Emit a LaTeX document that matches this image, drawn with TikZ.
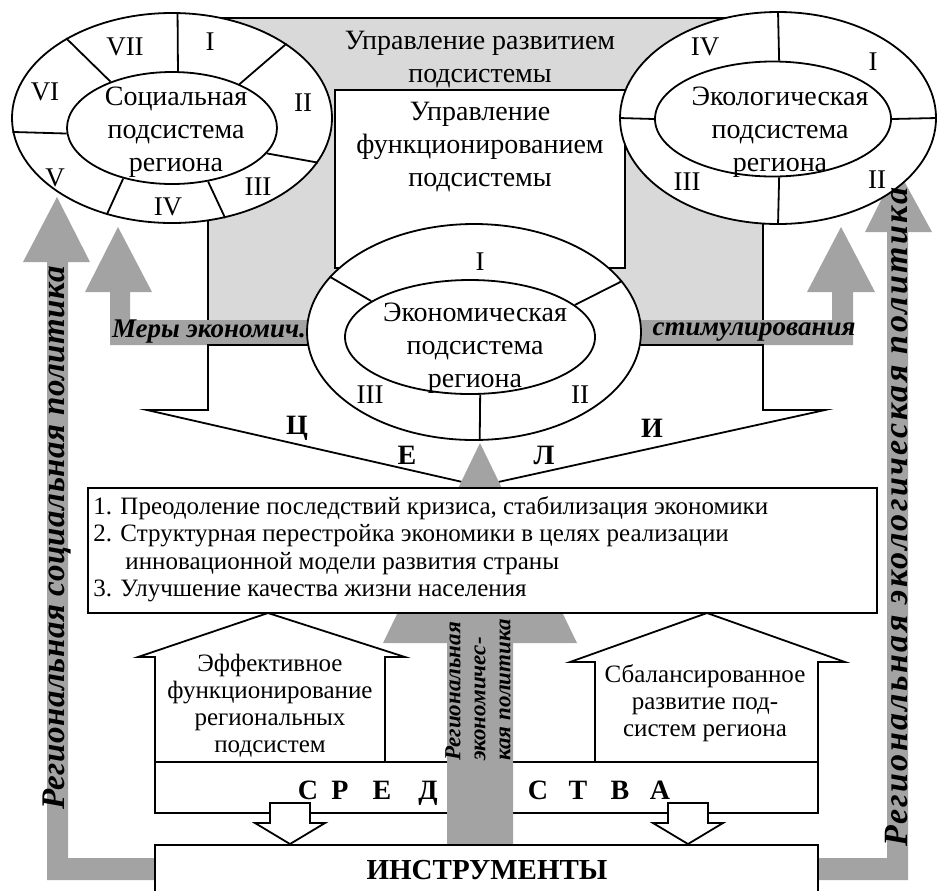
\documentclass[tikz,border=0pt]{standalone}
\usepackage{fontspec}
\setmainfont{Liberation Serif}
\usepackage{tikz}
\usetikzlibrary{
  shapes.geometric,
  calc
}
\definecolor{rgLight}{HTML}{D9D9D9}
\definecolor{rgBand}{HTML}{A3A3A3}
\tikzset{
  frame/.style={draw=black, line width=0.9pt},
  ring/.style={draw=black, line width=0.9pt, ellipse, fill=white, inner sep=0pt},
  core/.style={draw=black, line width=0.9pt, ellipse, inner sep=0pt},
  divline/.style={draw=black, line width=0.9pt},
  numlbl/.style={font=\fontsize{13.5}{15}\selectfont, inner sep=0pt},
  subtxt/.style={font=\fontsize{14}{16.5}\selectfont, align=center, inner sep=0pt},
  goaltxt/.style={font=\fontsize{12.5}{13.7}\selectfont, align=left, inner sep=0pt},
  housetxt/.style={font=\fontsize{12.5}{13.5}\selectfont, align=center, inner sep=0pt},
  letter/.style={font=\fontsize{14}{16}\selectfont\bfseries, inner sep=0pt, anchor=base},
  bandtxt/.style={font=\fontsize{13.5}{15}\selectfont\bfseries\itshape, inner sep=0pt},
  policy/.style={font=\fontsize{16.5}{18}\selectfont\bfseries\itshape, rotate=90, inner sep=0pt},
  policysm/.style={font=\fontsize{11.5}{12.5}\selectfont\bfseries\itshape, rotate=90, align=left, inner sep=0pt},
  bandfill/.style={fill=rgBand}
}

\begin{document}
\begin{tikzpicture}[x=0.5pt, y=-0.5pt]
  \useasboundingbox (0,0) rectangle (940,890);
  % control area
  \fill[rgLight] (208,18) rectangle (763,320);
  \draw[frame] (208,320) -- (208,18) -- (763,18) -- (763,320);
  % outer policy arrows
  \fill[bandfill] (47,880) -- (47,262) -- (23,262) -- (57,197) -- (90,262) -- (68,262)
    -- (68,858) -- (155,858) -- (155,880) -- cycle;
  \fill[bandfill] (908,880) -- (908,232) -- (932,232) -- (897,168) -- (865,232) -- (887,232)
    -- (887,858) -- (818,858) -- (818,880) -- cycle;
  % stimulation band
  \fill[bandfill] (340,320) -- (130,320) -- (130,292) -- (152,292) -- (118,227) -- (85,292)
    -- (110,292) -- (110,345) -- (340,345) -- cycle;
  \fill[bandfill] (610,320) -- (832,320) -- (832,292) -- (807,292) -- (841,227) -- (875,292)
    -- (853,292) -- (853,345) -- (610,345) -- cycle;
  % goals funnel
  \draw[frame] (208,345) -- (208,410) -- (147,410) -- (480,486) -- (825,410) -- (763,410)
    -- (763,345) -- cycle;
  % functioning box
  \draw[frame, fill=white] (335,90) rectangle (625,268);
  \node[subtxt] (devtxt) at (480,60) {Управление развитием\\подсистемы};
  \node[subtxt] (functxt) at (480,147) {Управление\\функционированием\\подсистемы};

  % economic subsystem
  \node[ring, minimum width=167pt, minimum height=108pt] (econo) at (474,332) {};
  \node[core, minimum width=125pt, minimum height=57pt] (econi) at (470,337) {};
  \draw[divline] (econo.159) -- (econi.160);
  \draw[divline] (econo.19) -- (econi.17);
  \draw[divline] (econi.-80) -- (econo.-87);
  \node[subtxt] (econtxt) at (475,348) {Экономическая\\подсистема\\региона};
  \node[numlbl] (econ1) at (480,262) {I};
  \node[numlbl] (econ2) at (580,395) {II};
  \node[numlbl] (econ3) at (370,395) {III};

  % social subsystem
  \node[ring, minimum width=160pt, minimum height=105pt] (soco) at (172,118) {};
  \node[core, minimum width=105pt, minimum height=56pt] (soci) at (172,128) {};
  \draw[divline] (soco.87) -- (soci.84);
  \draw[divline] (soco.33) -- (soci.33);
  \draw[divline] (soci.-15) -- (soco.-17);
  \draw[divline] (soci.-56) -- (soco.-62);
  \draw[divline] (soci.-134) -- (soco.-124);
  \draw[divline] (soco.-175) -- (soci.-177);
  \draw[divline] (soco.143) -- (soci.143);
  \node[subtxt] (soctxt) at (176,132) {Социальная\\подсистема\\региона};
  \node[numlbl] (soc1) at (210,42) {I};
  \node[numlbl] (soc2) at (303,103) {II};
  \node[numlbl] (soc3) at (258,187) {III};
  \node[numlbl] (soc4) at (168,207) {IV};
  \node[numlbl] (soc5) at (55,178) {V};
  \node[numlbl] (soc6) at (45,92) {VI};
  \node[numlbl] (soc7) at (125,47) {VII};

  % ecological subsystem
  \node[ring, minimum width=158pt, minimum height=106pt] (ecoo) at (778,118) {};
  \node[core, minimum width=118pt, minimum height=57.5pt] (ecoi) at (773,119) {};
  \draw[divline] (ecoo.90) -- (ecoi.84);
  \draw[divline] (ecoi.-84) -- (ecoo.-90);
  \draw[divline] (ecoo.180) -- (ecoi.180);
  \draw[divline] (ecoi.0) -- (ecoo.0);
  \node[subtxt] (ecotxt) at (780,132) {Экологическая\\подсистема\\региона};
  \node[numlbl] (eco1) at (873,62) {I};
  \node[numlbl] (eco2) at (877,180) {II};
  \node[numlbl] (eco3) at (687,182) {III};
  \node[numlbl] (eco4) at (705,47) {IV};

  % band labels
  \node[bandtxt] (measl) at (209,332) {Меры экономич.};
  \node[bandtxt] (measr) at (754,332) {стимулирования};
  \node[letter] (lc) at (297,434) {Ц};
  \node[letter] (le) at (407,464) {Е};
  \node[letter] (ll) at (544,464) {Л};
  \node[letter] (li) at (652,437) {И};

  % means box
  \draw[frame, fill=white] (155,762) rectangle (818,813);
  % economic policy arrow
  \fill[bandfill] (447,845) -- (447,643) -- (383,643) -- (480,443) -- (577,643) -- (513,643)
    -- (513,845) -- cycle;
  % goals
  \draw[frame, fill=white] (88,488) rectangle (877,613);
  \node[goaltxt, anchor=north west] (goals) at (93,496)
    {1. Преодоление последствий кризиса, стабилизация экономики\\
     2. Структурная перестройка экономики в целях реализации\\
     \hspace*{16pt}инновационной модели развития страны\\
     3. Улучшение качества жизни населения};
  % house arrows
  \draw[frame, fill=white] (155,762) -- (155,657) -- (138,657) -- (268,613) -- (405,657)
    -- (385,657) -- (385,762) -- cycle;
  \draw[frame, fill=white] (595,762) -- (595,662) -- (570,662) -- (707,613) -- (845,662)
    -- (818,662) -- (818,762) -- cycle;
  \node[housetxt] (effect) at (270,706) {Эффективное\\функционирование\\региональных\\подсистем};
  \node[housetxt] (balance) at (705,703) {Сбалансированное\\развитие под-\\систем региона};
  \node[policysm] (econpol) at (478,690) {Региональная\\экономичес-\\кая политика};

  % means letters
  \foreach \ch/\px in {С/308, Р/340, Е/382, Д/428, С/538, Т/578, В/620, А/660}
    \node[letter] at (\px,799) {\ch};
  % small arrows
  \draw[frame, fill=white] (270,803) -- (310,803) -- (310,823) -- (325,823) -- (290,844)
    -- (255,823) -- (270,823) -- cycle;
  \draw[frame, fill=white] (668,803) -- (708,803) -- (708,823) -- (723,823) -- (688,844)
    -- (653,823) -- (668,823) -- cycle;
  % instruments
  \fill[white] (155,845) rectangle (818,895);
  \draw[frame] (155,895) -- (155,845) -- (818,845) -- (818,895);
  \node[letter, font=\fontsize{14.5}{17}\selectfont\bfseries] (instr) at (487,879) {ИНСТРУМЕНТЫ};

  % policy labels
  \node[policy, font=\fontsize{16.5}{18}\selectfont\bfseries\itshape\addfontfeature{LetterSpace=1.5}]
    (socpol) at (57,538) {Региональная социальная политика};
  \node[policy, font=\fontsize{17}{19}\selectfont\bfseries\itshape\addfontfeature{LetterSpace=7}]
    (ecopol) at (897,517) {Региональная экологическая политика};
\end{tikzpicture}
\end{document}
